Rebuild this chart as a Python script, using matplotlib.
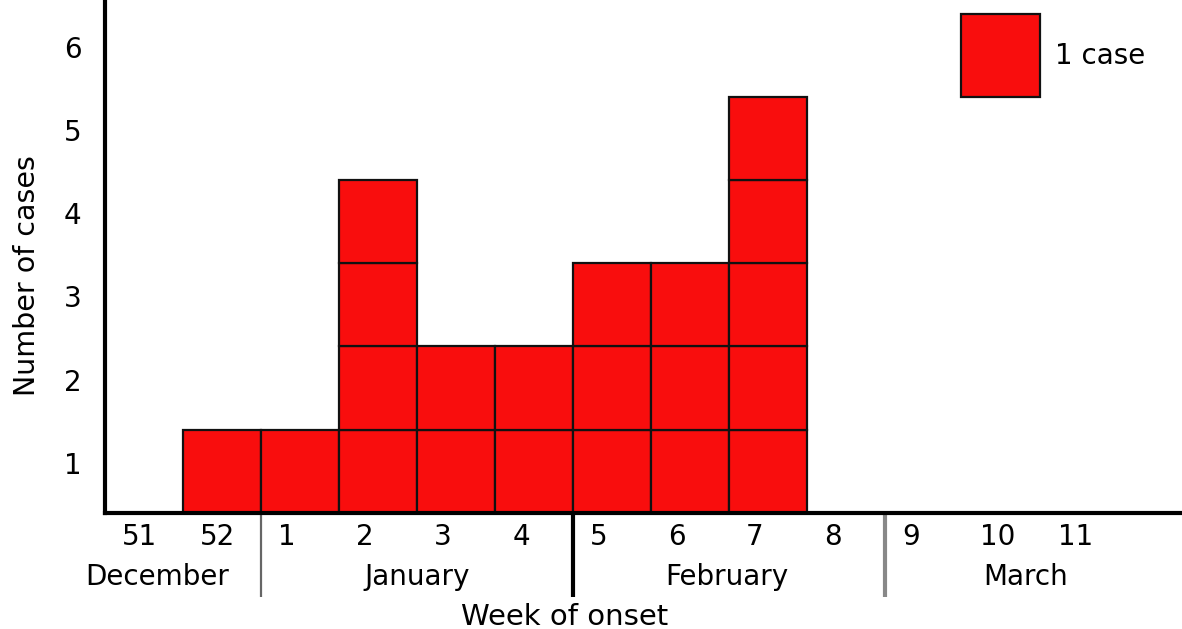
import matplotlib
matplotlib.use("Agg")
import matplotlib.pyplot as plt
from matplotlib.patches import Rectangle

# Data
weeks = ["51", "52", "1", "2", "3", "4", "5", "6", "7", "8", "9", "10", "11"]
cases = [0, 1, 1, 4, 2, 2, 3, 3, 5, 0, 0, 0, 0]
months = ["December", "January", "February", "March"]
month_center = [0.67, 4.0, 7.97, 11.8]   # column-index centre of month label
month_sep = [2, 6, 10]                    # column index of month boundaries
y_ticks = [1, 2, 3, 4, 5, 6]

RED = "#F90D0D"
FS = 20

fig = plt.figure(figsize=(11.82, 6.29), dpi=100)
ax = fig.add_axes([105/1182, (629-513)/629, (1182-105)/1182, 513/629])
ax.set_xlim(0, (1182-105)/78)
ax.set_ylim(0, 513/83.3)

# stacked unit boxes
for i, n in enumerate(cases):
    for k in range(n):
        ax.bar(i, 1, width=1, bottom=k, align="edge", color=RED,
               edgecolor="#111111", linewidth=1.6, zorder=2)

# legend box
ax.add_patch(Rectangle((10.97, 4.99), 1.02, 1.0, facecolor=RED,
                       edgecolor="#111111", linewidth=1.6, clip_on=False))
ax.text(12.18, 5.49, "1 case", fontsize=FS, ha="left", va="center")

# spines
for s in ["top", "right"]:
    ax.spines[s].set_visible(False)
ax.spines["left"].set_linewidth(3)
ax.spines["bottom"].set_linewidth(3)
ax.spines["left"].set_zorder(3)
ax.spines["bottom"].set_zorder(3)

# y ticks
ax.set_yticks([v - 0.4 for v in y_ticks])
ax.set_yticklabels([str(v) for v in y_ticks], fontsize=FS)
ax.tick_params(axis="y", length=0, pad=17)
ax.set_xticks([])

ax.text(-1.0, 2.85, "Number of cases", rotation=90, fontsize=20.5,
        ha="center", va="center")

# week labels
for i, w in enumerate(weeks):
    ax.text(i + 0.22, -0.29, w, fontsize=FS, ha="left", va="center",
            clip_on=False)

# month labels and separators
for m, cx in zip(months, month_center):
    ax.text(cx, -0.77, m, fontsize=FS, ha="center", va="center", clip_on=False)

sep_c = ["#666666", "#000000", "#888888"]
sep_w = [1.6, 3, 3]
for x, c, w in zip(month_sep, sep_c, sep_w):
    ax.plot([x, x], [0, -1.01], color=c, linewidth=w, clip_on=False,
            solid_capstyle="butt")

fig.text(565/1182, 1 - 617/629, "Week of onset", fontsize=21,
         ha="center", va="center")

fig.savefig("out.png", dpi=100)
